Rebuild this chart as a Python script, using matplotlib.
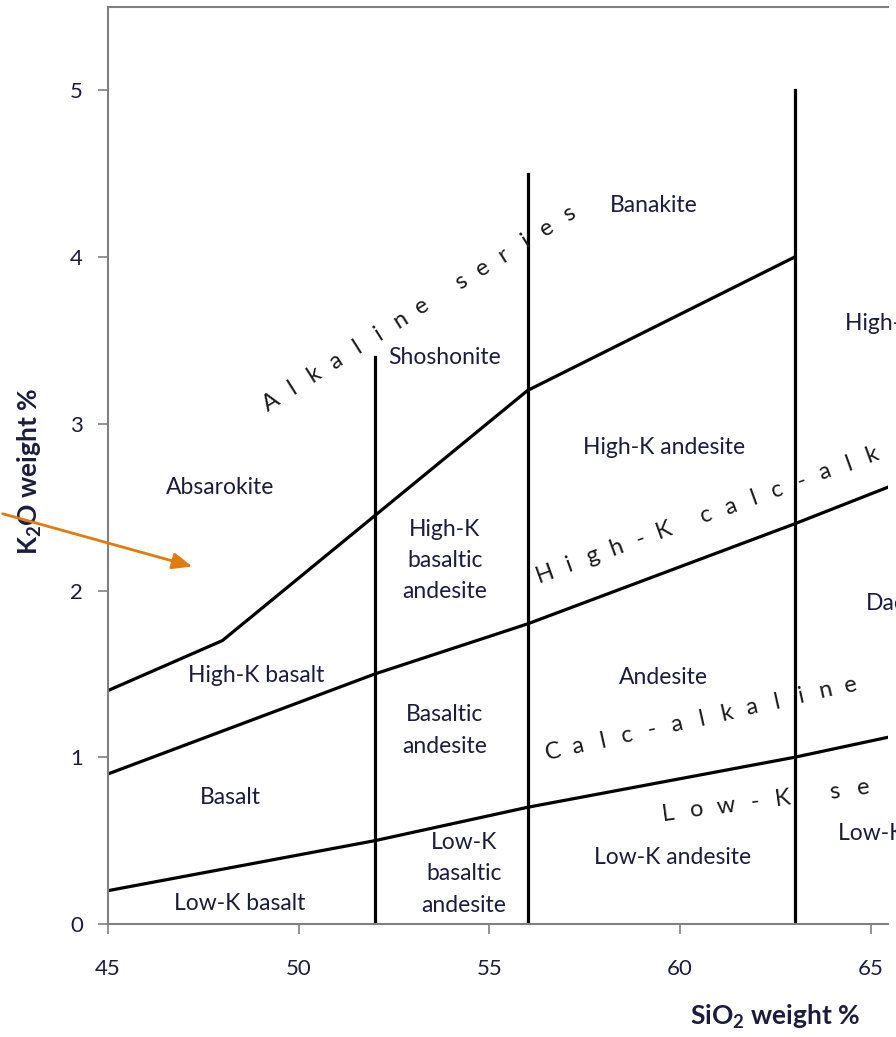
import numpy as np
import matplotlib.pyplot as plt
from matplotlib.transforms import offset_copy

plt.rcParams['font.family'] = ['Lato', 'DejaVu Sans']

# boundary lines (SiO2, K2O)
alk_x = [45, 48, 52, 56, 63]
alk_y = [1.4, 1.7, 2.45, 3.2, 4.0]
hik_x = [45, 52, 56, 63, 65.45]
hik_y = [0.9, 1.5, 1.8, 2.4, 2.62]
lowk_x = [45, 52, 56, 63, 65.45]
lowk_y = [0.2, 0.5, 0.7, 1.0, 1.12]

# vertical dividers: x position and top
div_x = [52, 56, 63]
div_top = [3.4, 4.5, 5.0]

# field names: text, x, y, alignment
fields = [
    ('Banakite', 59.3, 4.31, 'center'),
    ('High-K dacite', 64.32, 3.6, 'left'),
    ('Shoshonite', 53.83, 3.40, 'center'),
    ('High-K andesite', 59.57, 2.86, 'center'),
    ('Absarokite', 47.94, 2.62, 'center'),
    ('High-K\nbasaltic\nandesite', 53.83, 2.18, 'center'),
    ('Dacite', 64.87, 1.92, 'left'),
    ('High-K basalt', 48.88, 1.49, 'center'),
    ('Andesite', 59.57, 1.48, 'center'),
    ('Basaltic\nandesite', 53.83, 1.16, 'center'),
    ('Basalt', 48.22, 0.76, 'center'),
    ('Low-K\nbasaltic\nandesite', 54.33, 0.30, 'center'),
    ('Low-K andesite', 59.81, 0.40, 'center'),
    ('Low-K dacite', 64.13, 0.54, 'left'),
    ('Low-K basalt', 48.46, 0.12, 'center'),
]

# series names: text, x, y of first letter, rotation, letter pitch (px)
series = [
    ('Alkaline series', 49.25, 3.14, 32.2, 25.5),
    ('High-K calc-alkaline series', 56.45, 2.11, 19.9, 25.2),
    ('Calc-alkaline series', 56.66, 1.04, 12.7, 25.4),
    ('Low-K series', 59.68, 0.67, 7.5, 29.0),
]

txt = '#1c1c3c'
grey = '#808080'

fig = plt.figure(figsize=(8.96, 10.37), dpi=100)
ax = fig.add_axes([108 / 896, 113 / 1037, 780 / 896, 917 / 1037])
ax.set_xlim(45, 65.45)
ax.set_ylim(0, 5.5)

lw = 2.3
ax.plot(alk_x, alk_y, color='black', lw=lw)
ax.plot(hik_x, hik_y, color='black', lw=lw)
ax.plot(lowk_x, lowk_y, color='black', lw=lw)
for x, top in zip(div_x, div_top):
    ax.plot([x, x], [0, top], color='black', lw=lw)

for t, x, y, ha in fields:
    ax.text(x, y, t, ha=ha, va='center', fontsize=16.5, color=txt,
            linespacing=1.6)


def spaced_label(text, x, y, angle, pitch):
    # letter-spaced label along a slanted line, one glyph at a time
    th = np.radians(angle)
    c, s = np.cos(th), np.sin(th)
    x0, y0 = ax.transData.transform((x, y))
    right = ax.bbox.x1
    d = 0.0
    for ch in text:
        if ch == ' ':
            d += 0.8 * pitch
            continue
        dx = d * c + 8 * s
        dy = d * s - 8 * c
        if x0 + dx > right:  # the picture is cropped here
            break
        tr = offset_copy(ax.transData, fig=fig, x=dx, y=dy, units='dots')
        ax.text(x, y, ch, transform=tr, rotation=angle, rotation_mode='anchor',
                ha='center', va='baseline', fontsize=17, color='#1a1a1a',
                clip_on=True)
        d += pitch


for t, x, y, rot, p in series:
    spaced_label(t, x, y, rot, p)

ax.set_xticks([45, 50, 55, 60, 65])
ax.set_yticks([0, 1, 2, 3, 4, 5])
ax.tick_params(axis='both', direction='out', length=7, width=1.2, color=grey,
               labelsize=16, labelcolor=txt)
ax.tick_params(axis='x', pad=18)
ax.tick_params(axis='y', pad=11)
for s in ['left', 'top', 'bottom']:
    ax.spines[s].set_color(grey)
    ax.spines[s].set_linewidth(1.5)
ax.spines['right'].set_visible(False)

ax.set_xlabel('SiO$_\\mathregular{2}$ weight %', fontsize=19, fontweight='bold',
              color=txt)
ax.xaxis.set_label_coords(0.855, -0.086)
ax.set_ylabel('K$_\\mathregular{2}$O weight %', fontsize=19, fontweight='bold',
              color=txt)
ax.yaxis.set_label_coords(-0.082, 0.493)

# orange pointer arrow coming from off the left edge
ax.annotate('', xy=(47.28, 2.14), xycoords='data',
            xytext=(0.0, 1 - 513 / 1037), textcoords='figure fraction',
            arrowprops=dict(arrowstyle='-|>,head_length=1.2,head_width=0.5',
                            color='#e07b10', lw=2))

fig.savefig('out.png', dpi=100)
